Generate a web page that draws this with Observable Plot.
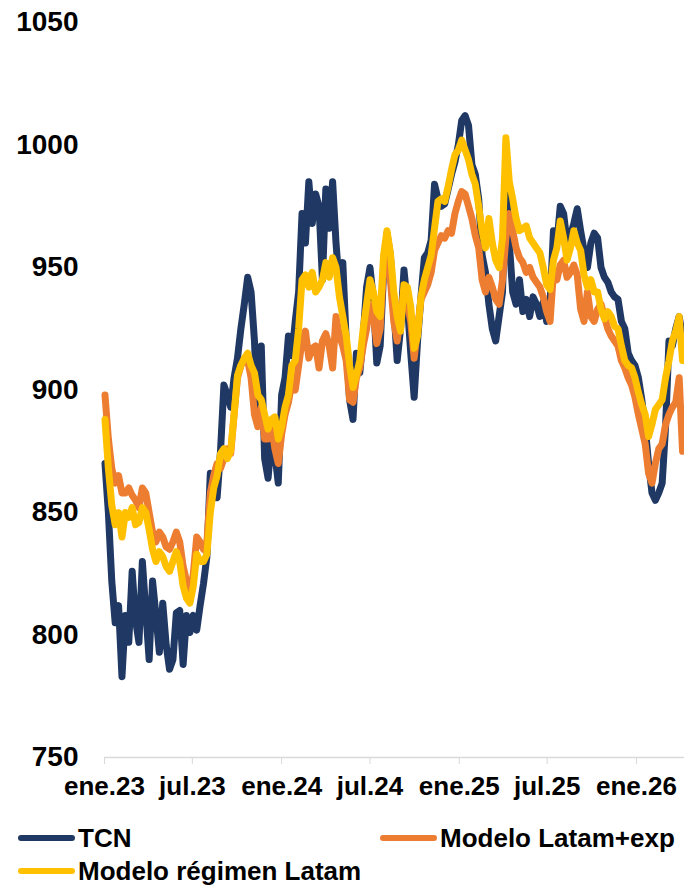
<!DOCTYPE html>
<html><head><meta charset="utf-8">
<script src="https://cdn.jsdelivr.net/npm/d3@7"></script>
<script src="https://cdn.jsdelivr.net/npm/@observablehq/plot@0.6"></script>
<style>
body{margin:0;background:#fff;font-family:"Liberation Sans",Arial,sans-serif;}
#wrap{position:relative;width:684px;height:888px;overflow:hidden;}
#chart svg text{font-weight:bold;}
.leg{position:absolute;display:flex;align-items:center;font-weight:bold;font-size:26px;line-height:30px;color:#000;white-space:nowrap;}
.sw{width:57px;height:6px;border-radius:3px;margin-right:3px;}
</style></head><body><div id="wrap"><div id="chart"></div></div>
<script>
// weekly observations starting at this date
const startDate = "2023-01-02";
const tcn = [870,850,822,805,812,783,808,797,826,806,797,830,810,790,822,808,793,813,796,786,
790,809,810,788,808,801,808,802,812,821,832,866,862,856,875,902,898,893,905,913,
925,935,946,940,920,886,918,872,864,880,874,862,898,905,922,914,928,940,972,960,
985,968,980,975,945,982,966,985,960,942,952,920,896,888,915,907,922,942,950,937,
911,918,948,964,955,934,912,925,949,935,915,897,920,938,954,956,961,984,978,975,
976,982,988,993,1000,1010,1012,1008,992,988,978,955,948,935,925,920,930,940,985,960,
940,935,945,932,937,930,938,935,930,936,928,935,965,960,975,972,960,963,968,974,
965,957,950,960,964,962,950,946,944,940,938,937,928,925,915,912,910,905,896,885,
870,858,855,858,862,885,920,918,925,930,922];
const latamExp = [898,880,868,862,865,858,858,860,857,855,852,860,858,850,842,838,842,840,836,835,
838,842,838,828,822,815,825,840,838,835,838,858,865,870,868,872,876,874,890,905,
910,912,912,905,890,885,893,880,880,886,876,870,882,890,895,903,900,910,920,924,
913,917,918,909,920,923,918,909,930,922,918,912,896,895,905,909,918,925,935,930,
919,925,950,957,945,928,920,930,941,935,928,913,925,937,940,943,948,957,960,963,
962,965,964,972,977,981,980,975,970,963,958,945,940,946,942,937,935,945,962,972,
965,958,954,952,948,950,946,944,942,938,932,928,948,945,951,953,946,948,951,947,
933,928,940,930,928,933,935,930,925,922,920,918,912,909,905,902,897,890,884,878,
866,862,870,876,878,886,890,893,895,905,875];
const regimen = [888,868,853,845,850,840,850,848,852,845,846,852,850,843,835,830,834,832,828,826,
830,834,830,820,815,813,820,833,830,830,833,850,860,865,874,876,872,875,890,906,
910,913,915,910,907,898,896,890,884,888,889,880,885,893,898,910,912,925,945,947,
942,948,940,942,945,952,946,954,950,938,930,922,910,901,906,912,925,935,945,940,
932,930,955,965,956,940,930,924,943,942,934,917,922,938,945,950,955,966,977,978,
977,983,990,996,998,1002,998,994,988,984,975,965,958,970,960,953,950,962,1003,985,
978,970,965,966,967,962,960,958,956,950,943,941,953,958,969,962,953,958,965,960,
957,947,942,945,940,940,933,929,932,930,926,925,918,912,910,909,905,899,894,890,
881,886,892,894,896,905,912,920,924,930,912];
const seriesNames = ["TCN","Modelo Latam+exp","Modelo régimen Latam"];
const seriesColors = ["#1F3864","#ED7D31","#FFC000"];
const yTicks = [750,800,850,900,950,1000,1050];
const xTickDates = ["2023-01-01","2023-07-01","2024-01-01","2024-07-01","2025-01-01","2025-07-01","2026-01-01"];
const xTickLabels = ["ene.23","jul.23","ene.24","jul.24","ene.25","jul.25","ene.26"];
const xStart = "2023-01-01";
const xEnd = "2026-04-10";

const start = new Date(startDate);
const rows = [];
[tcn, latamExp, regimen].forEach((arr, s) =>
  arr.forEach((v, i) => rows.push({date: d3.utcDay.offset(start, 7 * i), value: v, series: seriesNames[s]})));
const tickDates = xTickDates.map(d => new Date(d));
const labelByTime = new Map(tickDates.map((d, i) => [d.getTime(), xTickLabels[i]]));

const chart = Plot.plot({
  width: 684, height: 800,
  marginLeft: 104, marginRight: 0, marginTop: 22, marginBottom: 43,
  style: {fontFamily: "'Liberation Sans', Arial, sans-serif", background: "#fff", overflow: "visible", color: "#000"},
  x: {type: "utc", domain: [new Date(xStart), new Date(xEnd)], label: null},
  y: {domain: [750, 1050], label: null},
  color: {domain: seriesNames, range: seriesColors},
  marks: [
    Plot.axisY({ticks: yTicks, tickSize: 0, tickPadding: 26, tickFormat: d => String(d), fontSize: 28, fontWeight: "bold", label: null, fill: "#000"}),
    Plot.ruleY([750], {stroke: "#d9d9d9", strokeWidth: 1.3}),
    Plot.axisX({ticks: tickDates, tickSize: 7, stroke: "#d9d9d9", tickFormat: () => "", label: null}),
    Plot.axisX({ticks: tickDates, tickSize: 0, tickPadding: 19, tickFormat: d => labelByTime.get(d.getTime()), fontSize: 26, fontWeight: "bold", label: null, fill: "#000"}),
    Plot.lineY(rows, {x: "date", y: "value", stroke: "series", z: "series", strokeWidth: 7, strokeLinejoin: "round", strokeLinecap: "round"})
  ]
});
const wrap = document.getElementById("wrap");
document.getElementById("chart").appendChild(chart);

const legendPos = [[18, 823], [380, 823], [18, 856]];
seriesNames.forEach((n, i) => {
  const item = document.createElement("div");
  item.className = "leg";
  item.style.left = legendPos[i][0] + "px";
  item.style.top = legendPos[i][1] + "px";
  const sw = document.createElement("span");
  sw.className = "sw";
  sw.style.background = seriesColors[i];
  const t = document.createElement("span");
  t.textContent = n;
  item.appendChild(sw); item.appendChild(t);
  wrap.appendChild(item);
});
</script></body></html>
